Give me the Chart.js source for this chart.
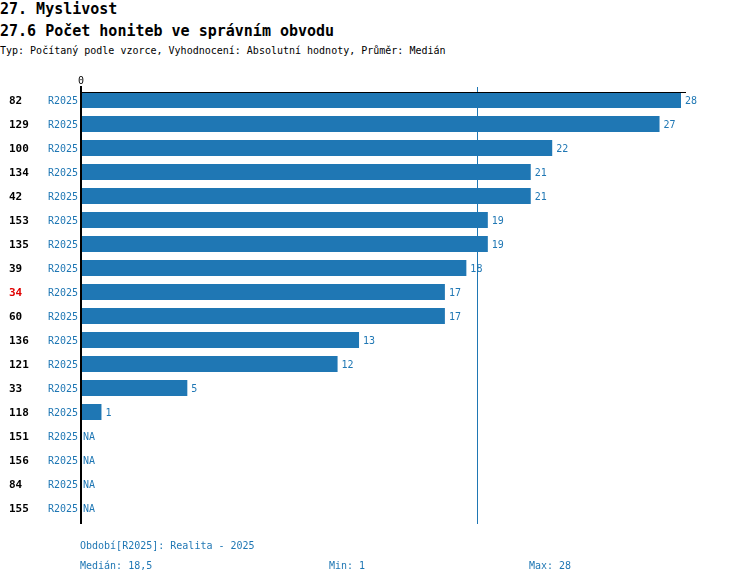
<!DOCTYPE html>
<html><head><meta charset="utf-8">
<script src="https://cdn.jsdelivr.net/npm/chart.js@4/dist/chart.umd.min.js"></script>
<style>
html,body{margin:0;padding:0;background:#fff;}
#wrap{position:relative;width:750px;height:584px;overflow:hidden;font-family:"DejaVu Sans Mono",monospace;}
canvas{position:absolute;left:0;top:0;}
.t{position:absolute;white-space:pre;left:0;}
#t1{top:1px;font-size:15px;font-weight:bold;line-height:17px;}
#t2{top:23px;font-size:15px;font-weight:bold;line-height:17px;}
#t3{top:45px;font-size:10px;line-height:12px;}
.f{position:absolute;white-space:pre;font-size:10px;color:#1f77b4;line-height:12px;}
</style></head>
<body><div id="wrap">
<div class="t" id="t1">27. Myslivost</div>
<div class="t" id="t2">27.6 Počet honiteb ve správním obvodu</div>
<div class="t" id="t3">Typ: Počítaný podle vzorce, Vyhodnocení: Absolutní hodnoty, Průměr: Medián</div>
<canvas id="c" width="750" height="584"></canvas>
<div class="f" style="left:80px;top:540px;">Období[R2025]: Realita - 2025</div>
<div class="f" id="fmed" style="left:80px;top:560px;"></div>
<div class="f" id="fmin" style="left:329px;top:560px;"></div>
<div class="f" id="fmax" style="left:529px;top:560px;"></div>
</div>
<script>
const codes = ["82","129","100","134","42","153","135","39","34","60","136","121","33","118","151","156","84","155"];
const periodLabel = "R2025";
const values = [28,27,22,21,21,19,19,18,17,17,13,12,5,1,null,null,null,null];
const highlightCode = "34";
const xTickLabels = ["0"];

const valid = values.filter(v => v !== null).sort((a,b)=>a-b);
const n = valid.length;
const median = n % 2 ? valid[(n-1)/2] : (valid[n/2-1] + valid[n/2]) / 2;
const vmin = valid[0], vmax = valid[n-1];
const fmt = v => String(v).replace('.', ',');
document.getElementById('fmed').textContent = 'Medián: ' + fmt(median);
document.getElementById('fmin').textContent = 'Min: ' + fmt(vmin);
document.getElementById('fmax').textContent = 'Max: ' + fmt(vmax);

const BLUE = '#1f77b4';
const FONT = '"DejaVu Sans Mono", monospace';

const overlay = {
  id: 'overlay',
  afterDatasetsDraw(chart) {
    const ctx = chart.ctx;
    const xs = chart.scales.x, ys = chart.scales.y;
    const ca = chart.chartArea;
    const x0 = xs.getPixelForValue(0);
    ctx.save();
    const mx = Math.round(xs.getPixelForValue(median)) + 0.5;
    ctx.strokeStyle = BLUE; ctx.lineWidth = 1;
    ctx.beginPath(); ctx.moveTo(mx, ca.top - 1); ctx.lineTo(mx, ca.bottom + 4); ctx.stroke();
    ctx.strokeStyle = '#000'; ctx.lineWidth = 1;
    ctx.beginPath(); ctx.moveTo(x0, ca.top + 4.5); ctx.lineTo(ca.right + 5, ca.top + 4.5); ctx.stroke();
    ctx.lineWidth = 2;
    ctx.beginPath(); ctx.moveTo(x0 + 1, ca.top - 2); ctx.lineTo(x0 + 1, ca.bottom + 4); ctx.stroke();
    ctx.fillStyle = '#000'; ctx.font = '10px ' + FONT;
    ctx.textAlign = 'center'; ctx.textBaseline = 'middle';
    xTickLabels.forEach(t => ctx.fillText(t, xs.getPixelForValue(Number(t)) + 1, ca.top - 7));
    codes.forEach((c, i) => {
      const y = ys.getPixelForValue(i);
      ctx.font = 'bold 11px ' + FONT;
      ctx.fillStyle = c === highlightCode ? '#e00000' : '#000';
      ctx.textAlign = 'left'; ctx.textBaseline = 'middle';
      ctx.fillText(c, 9, y + 1);
      ctx.font = '10px ' + FONT;
      ctx.fillStyle = BLUE;
      ctx.textAlign = 'right';
      ctx.fillText(periodLabel, x0 - 2, y + 1);
      ctx.textAlign = 'left';
      const v = values[i];
      if (v === null) {
        ctx.fillText('NA', x0 + 3, y + 1);
      } else {
        ctx.fillText(String(v), xs.getPixelForValue(v) + 4, y + 1);
      }
    });
    ctx.restore();
  }
};

new Chart(document.getElementById('c'), {
  type: 'bar',
  data: {
    labels: codes,
    datasets: [{
      data: values,
      backgroundColor: BLUE,
      borderWidth: 0,
      categoryPercentage: 1,
      barPercentage: 0.667
    }]
  },
  options: {
    indexAxis: 'y',
    responsive: false,
    animation: false,
    devicePixelRatio: 1,
    layout: { padding: { left: 80, right: 69, top: 88, bottom: 64 } },
    plugins: { legend: { display: false }, tooltip: { enabled: false }, title: { display: false } },
    scales: {
      x: { display: false, min: 0, max: 28 },
      y: { display: false, type: 'category' }
    }
  },
  plugins: [overlay]
});
</script>
</body></html>
